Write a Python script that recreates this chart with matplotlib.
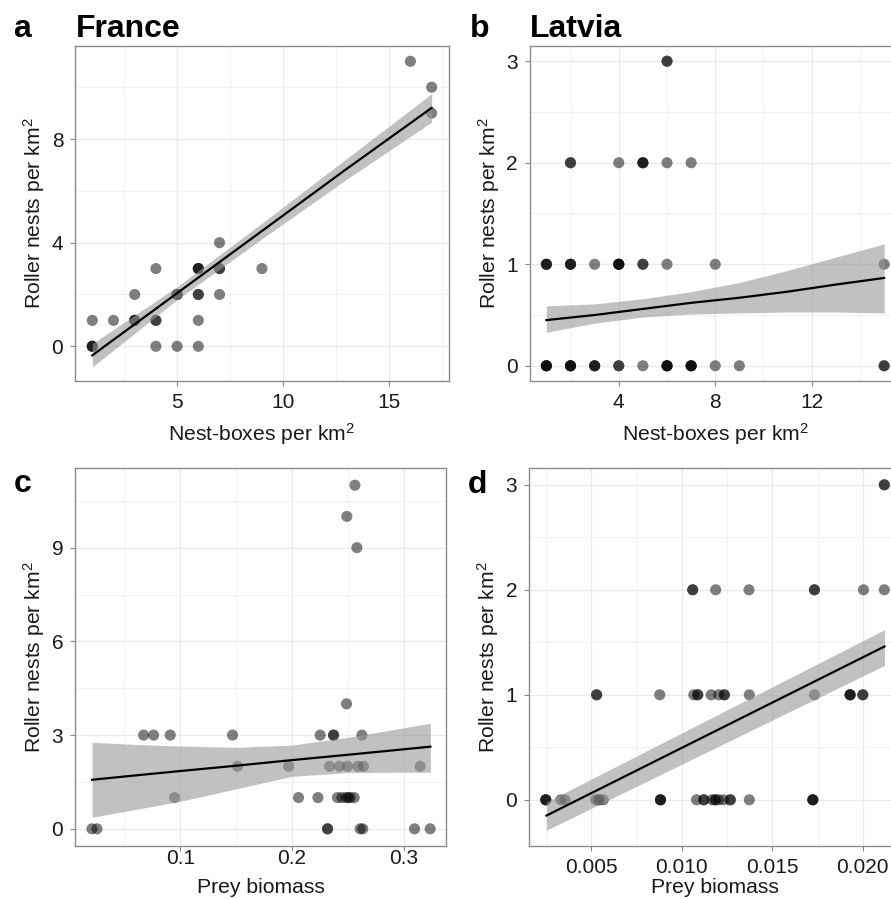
import numpy as np
import matplotlib.pyplot as plt
from matplotlib.ticker import FixedLocator, FormatStrFormatter

plt.rcParams['font.family'] = ['Liberation Sans', 'DejaVu Sans']
plt.rcParams['mathtext.default'] = 'regular'

# France: nest-boxes vs roller nests
fr_boxes = [1, 1, 1, 1, 2, 3, 3, 3, 3, 4, 4, 4, 4, 5, 5, 5, 5,
            6, 6, 6, 6, 6, 6, 6, 7, 7, 7, 7, 9, 16, 17, 17]
fr_nests = [0, 0, 0, 1, 1, 1, 1, 1, 2, 1, 1, 3, 0, 2, 2, 2, 0,
            3, 3, 3, 2, 2, 1, 0, 4, 3, 3, 2, 3, 11, 10, 9]
fr_fit_x = [1, 5, 9, 13, 17]
fr_fit_y = [-0.35, 2.05, 4.45, 6.85, 9.2]
fr_fit_lo = [-0.80, 1.80, 4.15, 6.45, 8.65]
fr_fit_hi = [0.10, 2.30, 4.75, 7.25, 9.75]

# Latvia: nest-boxes vs roller nests
lv_boxes = [1, 1, 1, 1, 2, 2, 2, 2, 3, 3, 3, 4, 4, 5, 6, 6, 6, 6, 7, 7, 7, 7, 8, 9, 15, 15,
            1, 1, 1, 2, 2, 2, 3, 4, 4, 4, 4, 5, 5, 6, 8, 15,
            2, 2, 4, 5, 5, 5, 6, 7,
            6, 6]
lv_nests = [0] * 26 + [1] * 16 + [2] * 8 + [3] * 2
lv_fit_x = [1, 3, 5, 7, 9, 11, 13, 15]
lv_fit_y = [0.45, 0.50, 0.56, 0.62, 0.67, 0.73, 0.80, 0.865]
lv_fit_lo = [0.33, 0.42, 0.48, 0.51, 0.52, 0.53, 0.53, 0.52]
lv_fit_hi = [0.59, 0.61, 0.66, 0.73, 0.82, 0.94, 1.07, 1.20]

# France: prey biomass vs roller nests
fr_prey = [0.0209, 0.0254, 0.2319, 0.2319, 0.2611, 0.2635, 0.3098, 0.3238,
           0.0949, 0.2059, 0.2233, 0.2408, 0.2448, 0.2486, 0.2505, 0.2522, 0.2558,
           0.1513, 0.1970, 0.2337, 0.2426, 0.2498, 0.2591, 0.2641, 0.3149,
           0.0672, 0.0761, 0.0910, 0.1468, 0.2253, 0.2373, 0.2373, 0.2627,
           0.2489, 0.2582, 0.2492, 0.2564]
fr_prey_nests = [0] * 8 + [1] * 9 + [2] * 8 + [3] * 8 + [4, 9, 10, 11]
fr_prey_fit_x = [0.021, 0.06, 0.10, 0.15, 0.20, 0.25, 0.29, 0.324]
fr_prey_fit_y = [1.57, 1.71, 1.85, 2.02, 2.20, 2.37, 2.51, 2.63]
fr_prey_fit_lo = [0.37, 0.62, 0.88, 1.28, 1.68, 1.80, 1.81, 1.81]
fr_prey_fit_hi = [2.77, 2.70, 2.65, 2.61, 2.68, 2.93, 3.17, 3.38]

# Latvia: prey biomass vs roller nests
lv_prey = [0.00248, 0.00248, 0.00248, 0.00331, 0.00354, 0.00524, 0.00542, 0.00542,
           0.00566, 0.00882, 0.00882, 0.00882, 0.01081, 0.01121, 0.01121, 0.01167,
           0.01185, 0.01185, 0.01204, 0.01231, 0.01268, 0.01268, 0.01373,
           0.01724, 0.01724, 0.01724,
           0.00529, 0.00529, 0.00878, 0.01066, 0.01088, 0.01088, 0.01162, 0.01204,
           0.01235, 0.01235, 0.01373, 0.01733, 0.0193, 0.0193, 0.0193, 0.0200, 0.0200,
           0.0106, 0.0106, 0.01187, 0.01371, 0.01733, 0.01733, 0.02004, 0.02119,
           0.02119, 0.02119]
lv_prey_nests = [0] * 26 + [1] * 17 + [2] * 8 + [3] * 2
lv_prey_fit_x = [0.00252, 0.0212]
lv_prey_fit_y = [-0.15, 1.46]
lv_prey_fit_lo = [-0.29, 1.28]
lv_prey_fit_hi = [-0.02, 1.62]

W, H = 891, 899
fig = plt.figure(figsize=(W / 100, H / 100), dpi=100)


def panel(box, x, y, fx, fy, flo, fhi, xlim, ylim, xt, xminor, yt, yminor, xlab,
          xfmt=None, xpad=4.7, xlab_off=40.5):
    left, top, right, bottom = box
    w, h = right - left, bottom - top
    ax = fig.add_axes([left / W, 1 - bottom / H, w / W, h / H])
    ax.set_xlim(xlim)
    ax.set_ylim(ylim)
    ax.xaxis.set_major_locator(FixedLocator(xt))
    ax.xaxis.set_minor_locator(FixedLocator(xminor))
    ax.yaxis.set_major_locator(FixedLocator(yt))
    ax.yaxis.set_minor_locator(FixedLocator(yminor))
    if xfmt:
        ax.xaxis.set_major_formatter(FormatStrFormatter(xfmt))
    ax.grid(which='major', color='#ebebeb', lw=1.0, zorder=0)
    ax.grid(which='minor', color='#f2f2f2', lw=0.8, zorder=0)
    ax.tick_params(which='major', length=3.6, width=0.8, color='#888888',
                   labelsize=15, labelcolor='#1a1a1a')
    ax.tick_params(axis='x', which='major', pad=xpad)
    ax.tick_params(axis='y', which='major', pad=5)
    ax.tick_params(which='minor', length=0)
    for s in ax.spines.values():
        s.set_color('#8c8c8c')
        s.set_linewidth(1.0)
    ax.scatter(x, y, s=64, color='black', alpha=0.5, edgecolors='none', zorder=2)
    ax.fill_between(fx, flo, fhi, color='#999999', alpha=0.6, lw=0, zorder=3)
    ax.plot(fx, fy, color='black', lw=1.6, zorder=4)
    ax.set_xlabel(xlab, fontsize=15.2, color='#1a1a1a')
    ax.set_ylabel('Roller nests per km$^2$', fontsize=15.2, color='#1a1a1a')
    ax.xaxis.set_label_coords(0.5, -xlab_off / h)
    ax.yaxis.set_label_coords(-28 / w, 0.5)
    ax.set_axisbelow(True)
    return ax


panel((75.3, 46, 448.6, 381), fr_boxes, fr_nests, fr_fit_x, fr_fit_y, fr_fit_lo, fr_fit_hi,
      (0.2, 17.8), (-1.34, 11.59), [5, 10, 15], [2.5, 7.5, 12.5, 17.5],
      [0, 4, 8], [2, 6, 10], 'Nest-boxes per km$^2$')
panel((529.5, 46, 901, 381), lv_boxes, lv_nests, lv_fit_x, lv_fit_y, lv_fit_lo, lv_fit_hi,
      (0.3, 15.7), (-0.15, 3.15), [4, 8, 12], [2, 6, 10, 14],
      [0, 1, 2, 3], [0.5, 1.5, 2.5], 'Nest-boxes per km$^2$')
panel((75.3, 468, 446, 846), fr_prey, fr_prey_nests, fr_prey_fit_x, fr_prey_fit_y,
      fr_prey_fit_lo, fr_prey_fit_hi, (0.006, 0.338), (-0.55, 11.55),
      [0.1, 0.2, 0.3], [0.05, 0.15, 0.25], [0, 3, 6, 9], [1.5, 4.5, 7.5, 10.5],
      'Prey biomass', '%.1f', xpad=-1.1, xlab_off=32)
panel((529.3, 468, 901.5, 846), lv_prey, lv_prey_nests, lv_prey_fit_x, lv_prey_fit_y,
      lv_prey_fit_lo, lv_prey_fit_hi, (0.00157, 0.02214), (-0.44, 3.16),
      [0.005, 0.010, 0.015, 0.020], [0.0025, 0.0075, 0.0125, 0.0175],
      [0, 1, 2, 3], [0.5, 1.5, 2.5], 'Prey biomass', '%.3f', xpad=5.0, xlab_off=32)

# panel letters and country titles
for px, py, s in [(13, 37, 'a'), (470, 37, 'b'), (14, 492, 'c'), (468, 493, 'd')]:
    fig.text(px / W, 1 - py / H, s, fontsize=23, fontweight='bold', ha='left', va='baseline')
for px, py, s in [(75.5, 37, 'France'), (530, 37, 'Latvia')]:
    fig.text(px / W, 1 - py / H, s, fontsize=23, fontweight='bold', ha='left', va='baseline')

fig.savefig('out.png', dpi=100)
